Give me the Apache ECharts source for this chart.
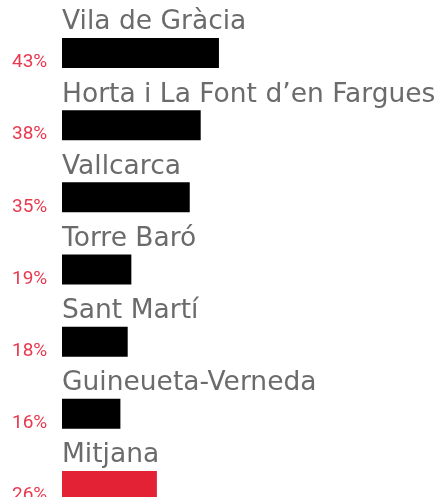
<!DOCTYPE html>
<html>
<head>
<meta charset="utf-8">
<script src="https://cdn.jsdelivr.net/npm/echarts@6/dist/echarts.min.js"></script>
<style>
html,body{margin:0;padding:0;background:#fff;}
#chart{width:441px;height:497px;}
</style>
</head>
<body>
<div id="chart"></div>
<script>
var categories = ["Vila de Gràcia", "Horta i La Font d’en Fargues", "Vallcarca", "Torre Baró", "Sant Martí", "Guineueta-Verneda", "Mitjana"];
var values = [43, 38, 35, 19, 18, 16, 26];
var percentLabels = ["43%", "38%", "35%", "19%", "18%", "16%", "26%"];
var highlight = "Mitjana";

var chart = echarts.init(document.getElementById('chart'), null, {renderer: 'canvas'});
chart.setOption({
  animation: false,
  grid: {left: 62, top: 17, width: 365, height: 505, outerBoundsMode: 'none', containLabel: false},
  xAxis: {type: 'value', min: 0, max: 100, show: false},
  yAxis: {
    type: 'category', data: categories, inverse: true,
    axisLine: {show: false}, axisTick: {show: false}, splitLine: {show: false},
    axisLabel: {
      show: true, align: 'left', margin: 50,
      verticalAlign: 'top', lineHeight: 19,
      fontFamily: 'Roboto', fontSize: 19, color: '#e8394f',
      formatter: function (v, i) { return percentLabels[i]; }
    }
  },
  series: [{
    type: 'bar',
    barWidth: 30,
    data: values.map(function (v, i) {
      return {value: v, itemStyle: {color: categories[i] === highlight ? '#e32236' : '#000000'}};
    }),
    label: {
      show: true,
      position: [0, -2],
      align: 'left', verticalAlign: 'bottom',
      fontFamily: 'DejaVu Sans', fontSize: 26.5, color: '#6b6b6b',
      formatter: function (p) { return categories[p.dataIndex]; }
    }
  }]
});
</script>
</body>
</html>
